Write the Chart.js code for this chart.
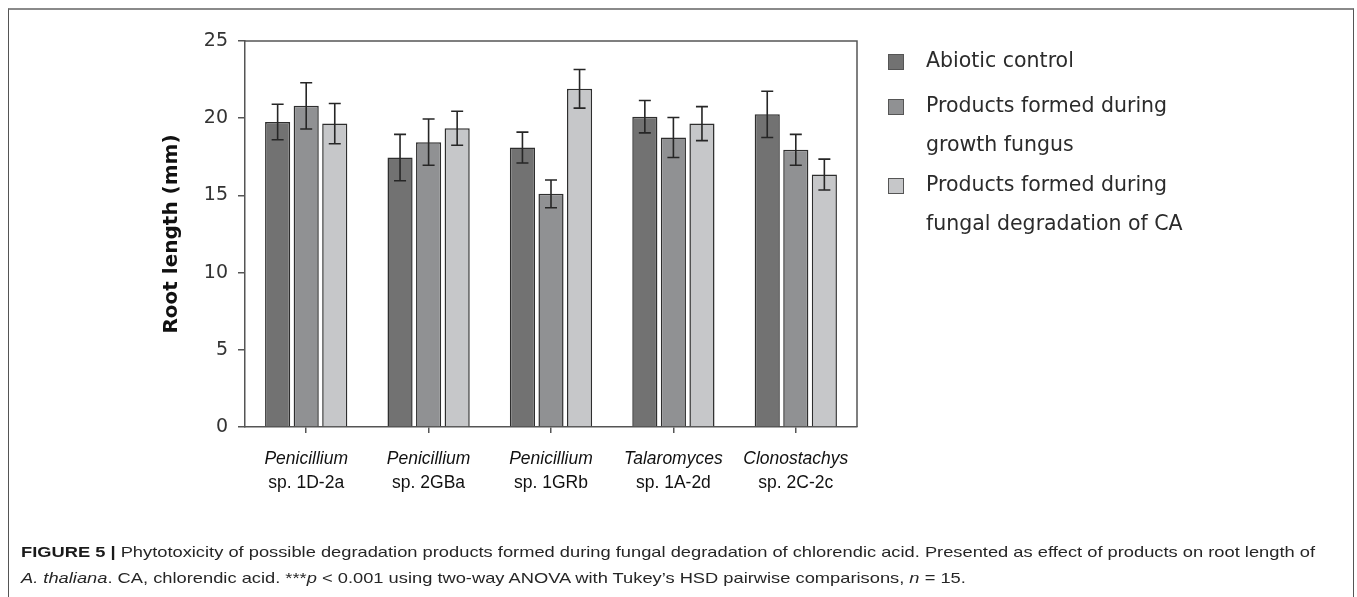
<!DOCTYPE html>
<html>
<head>
<meta charset="utf-8">
<script src="https://cdn.jsdelivr.net/npm/chart.js@4.4.1/dist/chart.umd.min.js"></script>
<style>
  html, body { margin: 0; padding: 0; background: #fff; }
  #wrap { position: relative; width: 1357px; height: 597px; overflow: hidden; }
  #frame { position: absolute; left: 8px; top: 8px; width: 1346px; height: 620px;
           border-top: 2px solid #8a8a8a; border-left: 1px solid #555; border-right: 1px solid #555; box-sizing: border-box; }
  #chart { position: absolute; left: 0; top: 0; }
  .cap { position: absolute; left: 21px; font-family: "Liberation Sans", Arial, sans-serif; font-size: 15px;
         color: #262626; white-space: nowrap; transform-origin: 0 0; }
  .cap b { color: #1a1a1a; }
</style>
</head>
<body>
<div id="wrap">
  <div id="frame"></div>
  <canvas id="chart" width="1357" height="597"></canvas>
  <div class="cap" id="cap1" style="top:543px"><b>FIGURE 5 |</b> Phytotoxicity of possible degradation products formed during fungal degradation of chlorendic acid. Presented as effect of products on root length of</div>
  <div class="cap" id="cap2" style="top:569px"><i>A. thaliana</i>. CA, chlorendic acid. ***<i>p</i> &lt; 0.001 using two-way ANOVA with Tukey’s HSD pairwise comparisons, <i>n</i> = 15.</div>
</div>
<script>
// Strains (genus in italics, strain code below)
const genera = ['Penicillium', 'Penicillium', 'Penicillium', 'Talaromyces', 'Clonostachys'];
const strains = ['sp. 1D-2a', 'sp. 2GBa', 'sp. 1GRb', 'sp. 1A-2d', 'sp. 2C-2c'];

// Mean root length (mm) per treatment
const abioticControl = [19.75, 17.45, 18.1, 20.1, 20.25];
const growthProducts = [20.8, 18.45, 15.1, 18.75, 17.95];
const degradationProducts = [19.65, 19.35, 21.9, 19.65, 16.35];

// Error bar half-widths (mm)
const abioticErr = [1.15, 1.5, 1.0, 1.05, 1.5];
const growthErr = [1.5, 1.5, 0.9, 1.3, 1.0];
const degradationErr = [1.3, 1.1, 1.25, 1.1, 1.0];

const yTicks = [0, 5, 10, 15, 20, 25];

const seriesLabels = [
  ['Abiotic control'],
  ['Products formed during', 'growth fungus'],
  ['Products formed during', 'fungal degradation of CA']
];
const fills = ['#727272', '#909193', '#c6c7c9'];
const errs = [abioticErr, growthErr, degradationErr];

// Whisker bars with caps
const errorBars = {
  id: 'errorBars',
  afterDatasetsDraw(chart) {
    const ctx = chart.ctx, y = chart.scales.y;
    ctx.save();
    ctx.strokeStyle = '#262626';
    ctx.lineWidth = 1.6;
    chart.data.datasets.forEach((ds, di) => {
      const meta = chart.getDatasetMeta(di);
      meta.data.forEach((bar, i) => {
        const v = ds.data[i], e = errs[di][i];
        const yt = y.getPixelForValue(v + e), yb = y.getPixelForValue(v - e);
        const x = bar.x, w = 6;
        ctx.beginPath();
        ctx.moveTo(x, yt); ctx.lineTo(x, yb);
        ctx.moveTo(x - w, yt); ctx.lineTo(x + w, yt);
        ctx.moveTo(x - w, yb); ctx.lineTo(x + w, yb);
        ctx.stroke();
      });
    });
    ctx.restore();
  }
};

// Plot border, two-line category labels and the side legend
const decor = {
  id: 'decor',
  afterDraw(chart) {
    const ctx = chart.ctx, a = chart.chartArea, x = chart.scales.x;
    ctx.save();
    ctx.strokeStyle = '#555';
    ctx.lineWidth = 1.5;
    ctx.beginPath();
    ctx.moveTo(a.left, a.top); ctx.lineTo(a.right, a.top); ctx.lineTo(a.right, a.bottom);
    ctx.stroke();

    ctx.fillStyle = '#111';
    ctx.textAlign = 'center';
    ctx.textBaseline = 'middle';
    genera.forEach((g, i) => {
      const px = x.getPixelForTick(i);
      ctx.font = 'italic 17.5px "Liberation Sans", Arial, sans-serif';
      ctx.fillText(g, px, 459);
      ctx.font = '17.5px "Liberation Sans", Arial, sans-serif';
      ctx.fillText(strains[i], px, 483);
    });

    ctx.textAlign = 'left';
    ctx.font = '20.5px "DejaVu Sans", Verdana, sans-serif';
    const rows = [62, 107, 186];
    seriesLabels.forEach((lines, i) => {
      const cy = rows[i];
      ctx.fillStyle = fills[i];
      ctx.fillRect(888, cy - 8, 16, 16);
      ctx.strokeStyle = '#555';
      ctx.lineWidth = 1;
      ctx.strokeRect(888.5, cy - 7.5, 15, 15);
      ctx.fillStyle = '#2b2b2b';
      lines.forEach((t, j) => ctx.fillText(t, 926, cy + j * 39));
    });
    ctx.restore();
  }
};

new Chart(document.getElementById('chart'), {
  type: 'bar',
  data: {
    labels: genera.map((g, i) => g + ' ' + strains[i]),
    datasets: [abioticControl, growthProducts, degradationProducts].map((d, i) => ({
      label: seriesLabels[i].join(' '),
      data: d,
      backgroundColor: fills[i],
      borderColor: '#2e2e2e',
      borderWidth: 1.5,
      categoryPercentage: 0.7,
      barPercentage: 0.88
    }))
  },
  options: {
    responsive: false,
    animation: false,
    events: [],
    layout: { padding: { left: 160, right: 500, top: 41, bottom: 160 } },
    plugins: { legend: { display: false }, tooltip: { enabled: false } },
    scales: {
      x: {
        grid: { display: true, offset: false, drawOnChartArea: false, drawTicks: true, tickLength: 6, color: '#555', lineWidth: 1.5 },
        border: { display: true, color: '#555', width: 1.5 },
        ticks: { display: false },
        afterFit(s) { s.height = 10; }
      },
      y: {
        min: 0, max: 25,
        afterBuildTicks(s) { s.ticks = yTicks.map(v => ({ value: v })); },
        grid: { display: true, drawOnChartArea: false, drawTicks: true, tickLength: 7, color: '#555', lineWidth: 1.5 },
        border: { display: true, color: '#555', width: 1.5 },
        ticks: { color: '#333', padding: 10, font: { family: '"DejaVu Sans", Verdana, sans-serif', size: 19 } },
        title: {
          display: true, text: 'Root length (mm)', color: '#111',
          font: { family: '"DejaVu Sans", Verdana, sans-serif', size: 20, weight: 'bold' },
          padding: { top: 0, bottom: 0 }
        },
        afterFit(s) { s.width = 85; }
      }
    }
  },
  plugins: [errorBars, decor]
});

// Fit caption lines to the frame's text width
const c1 = document.getElementById('cap1'), c2 = document.getElementById('cap2');
const k = 1294 / c1.getBoundingClientRect().width;
c1.style.transform = 'scaleX(' + k + ')';
c2.style.transform = 'scaleX(' + k + ')';
</script>
</body>
</html>
